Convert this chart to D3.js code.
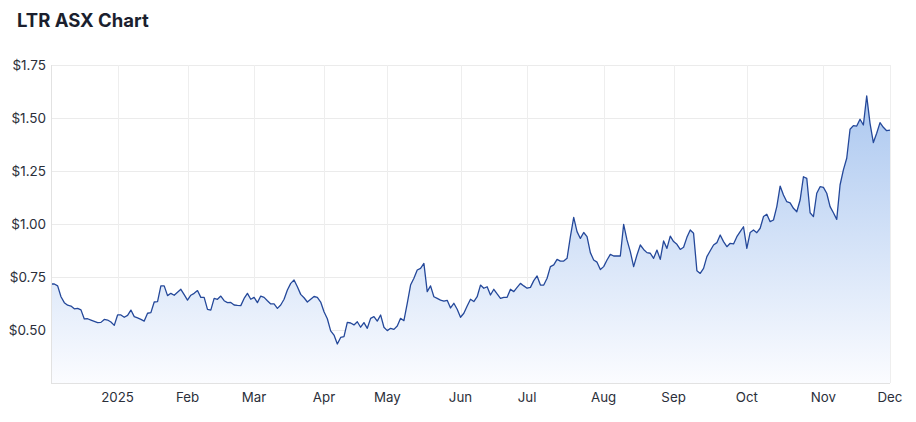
<!DOCTYPE html>
<html><head><meta charset="utf-8">
<script src="https://cdn.jsdelivr.net/npm/d3@7"></script>
<style>
html,body{margin:0;padding:0;background:#fff;}
svg{display:block;font-family:Inter,"Noto Sans",sans-serif;}
</style></head>
<body>
<svg id="chart" width="916" height="422"></svg>
<script>
// Daily closing prices (ASX trading days), grouped by month
const dec2024 = [0.717,0.717,0.708,0.657,0.629,0.617,0.613,0.600,0.602,0.595,0.552,0.553,0.547,0.541,0.535,0.536,0.550,0.547,0.538,0.522];
const jan2025 = [0.571,0.571,0.560,0.569,0.594,0.563,0.557,0.550,0.542,0.579,0.582,0.632,0.634,0.708,0.708,0.662,0.673,0.664,0.678,0.692,0.667];
const feb2025 = [0.641,0.664,0.673,0.686,0.654,0.654,0.597,0.594,0.649,0.645,0.660,0.638,0.629,0.630,0.618,0.616,0.615,0.649,0.673,0.645];
const mar2025 = [0.654,0.629,0.660,0.654,0.638,0.623,0.623,0.602,0.618,0.645,0.689,0.720,0.736,0.704,0.668,0.652,0.632,0.645,0.658,0.654,0.632];
const apr2025 = [0.586,0.553,0.496,0.476,0.434,0.465,0.469,0.536,0.533,0.524,0.539,0.513,0.535,0.508,0.555,0.563,0.542,0.571,0.513];
const may2025 = [0.497,0.508,0.503,0.519,0.555,0.544,0.626,0.712,0.744,0.783,0.791,0.814,0.681,0.708,0.657,0.649,0.641,0.636,0.640,0.604,0.626,0.598];
const jun2025 = [0.560,0.579,0.613,0.645,0.634,0.657,0.712,0.697,0.704,0.665,0.692,0.670,0.649,0.654,0.654,0.692,0.681,0.701,0.720,0.708];
const jul2025 = [0.697,0.701,0.733,0.755,0.712,0.712,0.744,0.799,0.807,0.833,0.825,0.825,0.838,0.940,1.031,0.964,0.932,0.960,0.940,0.865,0.830,0.820,0.785];
const aug2025 = [0.799,0.830,0.857,0.849,0.849,0.849,0.998,0.925,0.870,0.799,0.854,0.901,0.880,0.865,0.862,0.838,0.877,0.833,0.920,0.885,0.943];
const sep2025 = [0.917,0.904,0.880,0.890,0.937,0.972,0.956,0.780,0.767,0.791,0.846,0.874,0.901,0.912,0.948,0.917,0.893,0.909,0.906,0.940,0.964,0.987];
const oct2025 = [0.885,0.960,0.972,0.959,0.980,1.035,1.046,1.011,1.019,1.082,1.179,1.137,1.105,1.100,1.074,1.058,1.113,1.223,1.215,1.053,1.035,1.145,1.176];
const nov2025 = [1.173,1.145,1.082,1.053,1.022,1.184,1.255,1.310,1.447,1.464,1.462,1.494,1.467,1.604,1.475,1.384,1.428,1.478,1.456,1.440];
const dec2025 = [1.443];

const months = [dec2024,jan2025,feb2025,mar2025,apr2025,may2025,jun2025,jul2025,aug2025,sep2025,oct2025,nov2025,dec2025];
const monthLabels = [null,"2025","Feb","Mar","Apr","May","Jun","Jul","Aug","Sep","Oct","Nov","Dec"];
const yTicks = [0.5,0.75,1.0,1.25,1.5,1.75];
const yDomain = [0.25,1.75];
const title = "LTR ASX Chart";

// build series
const prices = [].concat(...months);
const data = prices.map((v,i)=>({i, v}));
const monthStarts = [];
let acc = 0;
months.forEach((m,k)=>{ if(monthLabels[k]) monthStarts.push({i:acc,label:monthLabels[k]}); acc += m.length; });

const svg = d3.select("#chart");
const M = {left:51, right:26, top:65, bottom:39};
const W = 916, H = 422;
const x = d3.scaleLinear().domain([0, prices.length-1]).range([M.left, W-M.right]);
const y = d3.scaleLinear().domain(yDomain).range([H-M.bottom, M.top]);

svg.append("text").attr("x",17).attr("y",27).text(title)
  .attr("font-size",18.5).attr("font-weight",700).attr("fill","#1b1f2e");

// gradient
const defs = svg.append("defs");
const g = defs.append("linearGradient").attr("id","areaGrad")
  .attr("gradientUnits","userSpaceOnUse").attr("x1",0).attr("x2",0)
  .attr("y1",y(yDomain[1])).attr("y2",y(yDomain[0]));
g.append("stop").attr("offset","0%").attr("stop-color","#a3c2ee");
g.append("stop").attr("offset","100%").attr("stop-color","#fbfcff");

// horizontal grid
svg.append("g").selectAll("line").data(yTicks).join("line")
  .attr("x1",M.left).attr("x2",W-M.right)
  .attr("y1",d=>y(d)).attr("y2",d=>y(d))
  .attr("stroke","#ebebeb").attr("stroke-width",1).attr("shape-rendering","crispEdges");
// vertical grid
svg.append("g").selectAll("line").data(monthStarts).join("line")
  .attr("x1",d=>Math.round(x(d.i))+0.5).attr("x2",d=>Math.round(x(d.i))+0.5)
  .attr("y1",M.top).attr("y2",H-M.bottom)
  .attr("stroke","#eeeeee").attr("stroke-width",1);

// area + line
const area = d3.area().x(d=>x(d.i)).y0(y(yDomain[0])).y1(d=>y(d.v));
const line = d3.line().x(d=>x(d.i)).y(d=>y(d.v));
svg.append("path").datum(data).attr("d",area).attr("fill","url(#areaGrad)");
svg.append("path").datum(data).attr("d",line).attr("fill","none")
  .attr("stroke","#24489a").attr("stroke-width",1.3).attr("stroke-linejoin","round");

// axis lines
svg.append("line").attr("x1",M.left+0.5).attr("x2",M.left+0.5).attr("y1",M.top).attr("y2",H-M.bottom)
  .attr("stroke","#e2e2e2");
svg.append("line").attr("x1",M.left).attr("x2",W-M.right).attr("y1",H-M.bottom+0.5).attr("y2",H-M.bottom+0.5)
  .attr("stroke","#e2e2e2");

// y labels
svg.append("g").selectAll("text").data(yTicks).join("text")
  .attr("x",46).attr("y",d=>y(d)).attr("dy","0.35em").attr("text-anchor","end")
  .attr("font-size",13.5).attr("fill","#2b2f3a")
  .text(d=>"$"+d3.format(".2f")(d));

// x labels
svg.append("g").selectAll("text").data(monthStarts).join("text")
  .attr("x",d=>x(d.i)).attr("y",402).attr("text-anchor","middle")
  .attr("font-size",13.3).attr("fill","#2b2f3a")
  .text(d=>d.label);
</script>
</body></html>
